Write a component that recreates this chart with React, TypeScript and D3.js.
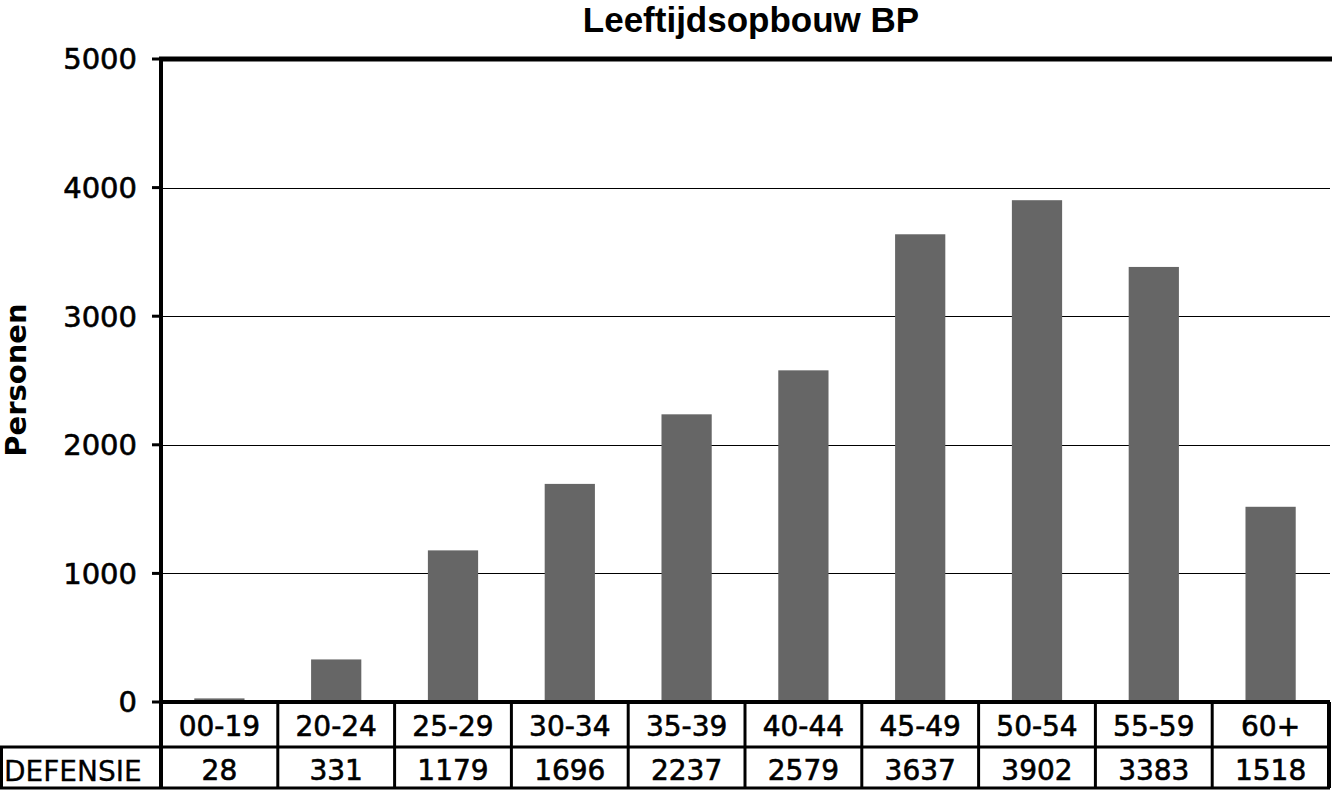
import React from "react";
import * as d3 from "d3";

const title = "Leeftijdsopbouw BP";
const yLabel = "Personen";
const seriesName = "DEFENSIE";
const categories = ["00-19", "20-24", "25-29", "30-34", "35-39", "40-44", "45-49", "50-54", "55-59", "60+"];
const values = [28, 331, 1179, 1696, 2237, 2579, 3637, 3902, 3383, 1518];
const yTicks = [0, 1000, 2000, 3000, 4000, 5000];

const W = 1332;
const H = 791;
const left = 161;
const right = 1329;
const top = 59;
const bottom = 702;
const row1 = 747;
const row2 = 788;

export default function App() {
  const x = d3.scaleBand<string>().domain(categories).range([left, right]).padding(0);
  const y = d3.scaleLinear().domain([0, 5000]).range([bottom, top]);
  const bw = x.bandwidth() * 0.43;
  const tickFont = "DejaVu Sans, Verdana, sans-serif";
  const heavy = { stroke: "#000", strokeWidth: 0.6 };

  return (
    <div style={{ position: "absolute", left: 0, top: 0 }}>
      <svg width={W} height={H} style={{ display: "block", background: "#fff" }}>
        <rect x={0} y={0} width={W} height={H} fill="#fff" />
        <text
          x={751}
          y={32}
          textAnchor="middle"
          fontFamily="Liberation Sans, Arial, sans-serif"
          fontWeight="bold"
          fontSize={35}
        >
          {title}
        </text>
        <text
          transform={`translate(26,${380}) rotate(-90)`}
          textAnchor="middle"
          fontFamily={tickFont}
          fontWeight="bold"
          fontSize={29}
        >
          {yLabel}
        </text>
        {yTicks.filter((t) => t > 0 && t < 5000).map((t) => (
          <line key={t} x1={left} x2={1330} y1={Math.round(y(t)) + 0.5} y2={Math.round(y(t)) + 0.5} stroke="#000" strokeWidth={1} />
        ))}
        {categories.map((c, i) => (
          <rect
            key={c}
            x={(x(c) as number) + (x.bandwidth() - bw) / 2}
            y={y(values[i])}
            width={bw}
            height={bottom - y(values[i])}
            fill="#666666"
          />
        ))}
        <line x1={left - 2} x2={W} y1={top} y2={top} stroke="#000" strokeWidth={5} />
        <line x1={left} x2={left} y1={top - 2} y2={row2} stroke="#000" strokeWidth={4} />
        {yTicks.map((t) => (
          <g key={t}>
            <line x1={152} x2={left} y1={y(t)} y2={y(t)} stroke="#000" strokeWidth={3} />
            <text x={137} y={y(t)} dy="0.36em" textAnchor="end" fontFamily={tickFont} fontSize={29} {...heavy}>
              {t}
            </text>
          </g>
        ))}
        <line x1={left - 2} x2={right + 1} y1={bottom} y2={bottom} stroke="#000" strokeWidth={4} />
        <line x1={0} x2={right + 1} y1={row1} y2={row1} stroke="#000" strokeWidth={3} />
        <line x1={0} x2={right + 1} y1={row2} y2={row2} stroke="#000" strokeWidth={3} />
        <line x1={1.5} x2={1.5} y1={row1} y2={row2} stroke="#000" strokeWidth={3} />
        {categories.map((c) => (
          <line
            key={"v" + c}
            x1={(x(c) as number) + x.bandwidth()}
            x2={(x(c) as number) + x.bandwidth()}
            y1={bottom}
            y2={row2}
            stroke="#000"
            strokeWidth={c === "60+" ? 4 : 3}
          />
        ))}
        {categories.map((c, i) => (
          <g key={"t" + c}>
            <text
              x={(x(c) as number) + x.bandwidth() / 2}
              y={736}
              textAnchor="middle"
              fontFamily={tickFont}
              fontSize={28}
              {...heavy}
            >
              {c}
            </text>
            <text
              x={(x(c) as number) + x.bandwidth() / 2}
              y={780}
              textAnchor="middle"
              fontFamily={tickFont}
              fontSize={28}
              {...heavy}
            >
              {values[i]}
            </text>
          </g>
        ))}
        <text x={4} y={781} fontFamily={tickFont} fontSize={28} stroke="#000" strokeWidth={0.3}>
          {seriesName}
        </text>
      </svg>
    </div>
  );
}
